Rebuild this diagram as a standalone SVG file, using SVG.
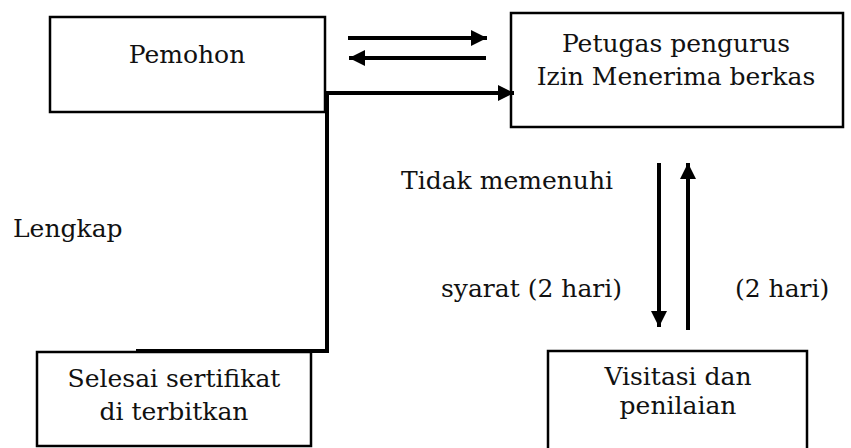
<svg xmlns="http://www.w3.org/2000/svg" width="851" height="448" viewBox="0 0 851 448">
<style>
.box{fill:#fff;stroke:#000;stroke-width:2.5}
.t{font-family:"DejaVu Serif","Liberation Serif",serif;font-size:25px;fill:#111}
.c{text-anchor:middle}
.ln{fill:none;stroke:#000;stroke-width:4}
</style>
<defs>
<marker id="ah" markerUnits="userSpaceOnUse" markerWidth="16" markerHeight="16" viewBox="0 0 16 16" refX="16" refY="8" orient="auto">
<path d="M0,0 L16,8 L0,16 Z" fill="#000"/>
</marker>
</defs>
<rect width="851" height="448" fill="#fff"/>
<g id="pemohon">
<rect class="box" x="50" y="17" width="275" height="95"/>
<text class="t c" x="187" y="63">Pemohon</text>
</g>
<g id="petugas">
<rect class="box" x="511" y="13" width="332" height="114"/>
<text class="t c" x="676" y="52">Petugas pengurus</text>
<text class="t c" x="676" y="85">Izin Menerima berkas</text>
</g>
<g id="selesai">
<rect class="box" x="37" y="352" width="274" height="94"/>
<text class="t c" x="174" y="387">Selesai sertifikat</text>
<text class="t c" x="174" y="420">di terbitkan</text>
</g>
<g id="visitasi">
<rect class="box" x="548" y="351" width="259" height="110"/>
<text class="t c" x="678" y="385">Visitasi dan</text>
<text class="t c" x="678" y="414">penilaian</text>
</g>
<g id="connectors">
<line class="ln" x1="348" y1="38" x2="487" y2="38" marker-end="url(#ah)"/>
<line class="ln" x1="486" y1="58" x2="349" y2="58" marker-end="url(#ah)"/>
<polyline class="ln" points="136,351 327,351 327,93 514,93" marker-end="url(#ah)"/>
<line class="ln" x1="659" y1="163" x2="659" y2="327" marker-end="url(#ah)"/>
<line class="ln" x1="688" y1="330" x2="688" y2="163" marker-end="url(#ah)"/>
</g>
<g id="labels">
<text class="t" x="401" y="189">Tidak memenuhi</text>
<text class="t" x="441" y="297">syarat (2 hari)</text>
<text class="t" x="735" y="297">(2 hari)</text>
<text class="t" x="13" y="237">Lengkap</text>
</g>
</svg>
